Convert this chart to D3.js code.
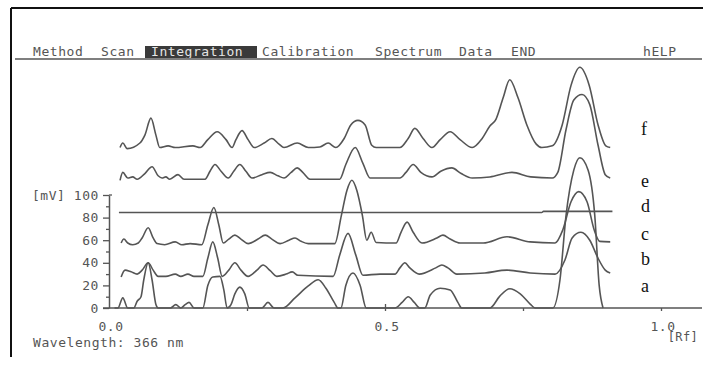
<!DOCTYPE html>
<html>
<head>
<meta charset="utf-8">
<script src="https://cdn.jsdelivr.net/npm/d3@7"></script>
<style>
  body { margin: 0; background: #fff; }
  text { font-family: "DejaVu Sans Mono", monospace; }
</style>
</head>
<body>
<div id="chart"></div>
<script>
// densitogram traces, [Rf, mV]
const traceA = [[0.010,0],[0.016,0],[0.025,9],[0.034,0],[0.045,0],[0.051,6],[0.058,10],[0.063,25],[0.071,40],[0.078,25],[0.085,3],[0.089,0],[0.111,0],[0.121,3],[0.130,0],[0.138,3],[0.145,5],[0.154,0],[0.170,0],[0.179,20],[0.188,27.5],[0.201,28],[0.208,16],[0.214,0],[0.221,3],[0.228,12.5],[0.237,18.5],[0.246,12.5],[0.254,0],[0.277,0],[0.288,5],[0.299,0],[0.315,0],[0.337,9],[0.361,19.5],[0.379,25],[0.393,17.5],[0.408,5],[0.415,0],[0.420,0],[0.429,20],[0.442,31],[0.455,20],[0.466,0],[0.518,0],[0.531,5],[0.542,10],[0.553,5],[0.563,0],[0.572,0],[0.582,11.5],[0.600,17.5],[0.618,16],[0.632,5],[0.639,0],[0.690,0],[0.708,10.5],[0.726,17],[0.745,12.5],[0.763,3.5],[0.772,0],[0.804,0],[0.817,25],[0.828,82],[0.842,122],[0.853,133],[0.868,122],[0.880,82],[0.888,20],[0.895,0]];
const traceB = [[0.022,27.5],[0.029,33.5],[0.040,32],[0.051,30],[0.060,33.5],[0.071,40],[0.080,33.5],[0.089,28],[0.103,28],[0.120,30],[0.130,28],[0.143,30],[0.154,28],[0.170,28],[0.179,44],[0.188,58.5],[0.197,44],[0.205,28],[0.217,33.5],[0.228,40],[0.239,33.5],[0.252,28],[0.268,33.5],[0.279,38],[0.292,33],[0.304,28],[0.321,30],[0.332,32],[0.342,29],[0.406,28],[0.418,47],[0.433,66],[0.447,47],[0.460,29],[0.491,30],[0.518,30],[0.527,35.5],[0.536,40],[0.545,35.5],[0.562,30],[0.592,35.5],[0.603,38],[0.614,35.5],[0.630,30],[0.681,31],[0.721,33.5],[0.763,31],[0.808,30],[0.826,42.5],[0.839,62],[0.855,67],[0.871,60],[0.886,44],[0.899,33.5],[0.908,31]];
const traceC = [[0.022,57.5],[0.027,61],[0.034,57.5],[0.043,56],[0.053,57.5],[0.060,62],[0.071,71],[0.080,62],[0.087,57],[0.101,56],[0.120,58.5],[0.132,56],[0.147,57],[0.168,56],[0.179,73.5],[0.190,89],[0.199,73.5],[0.207,57.5],[0.217,61],[0.228,64.5],[0.239,61],[0.252,57],[0.270,61],[0.283,64.5],[0.295,61],[0.310,57],[0.326,60],[0.337,62],[0.348,59],[0.361,57],[0.409,57],[0.421,82],[0.431,104],[0.440,113],[0.449,104],[0.459,82],[0.467,60],[0.475,67],[0.484,58],[0.520,57.5],[0.529,67],[0.540,76],[0.551,67],[0.567,57.5],[0.594,62],[0.605,64.5],[0.618,61],[0.636,57.5],[0.678,57.5],[0.721,63],[0.763,58.5],[0.808,57.5],[0.822,69],[0.837,94],[0.851,103],[0.866,94],[0.879,69],[0.889,59],[0.908,58.5]];
const traceD = [[0.018,84.5],[0.784,84.5],[0.787,85.5],[0.912,85.5]];
const traceE = [[0.020,113],[0.025,120],[0.034,115],[0.043,116],[0.051,114],[0.065,119],[0.078,125],[0.089,117],[0.096,115],[0.103,116],[0.110,114],[0.125,118],[0.136,114],[0.174,114],[0.183,121],[0.192,127],[0.203,121],[0.216,115],[0.226,121],[0.237,127],[0.248,121],[0.259,115],[0.277,118],[0.292,120],[0.306,117],[0.317,115],[0.330,120],[0.341,124],[0.351,120],[0.364,114],[0.418,114],[0.429,127],[0.446,142],[0.460,128],[0.473,115],[0.527,115],[0.538,120],[0.551,127],[0.565,120],[0.585,116],[0.601,121],[0.621,124],[0.638,119],[0.658,115],[0.690,116],[0.730,120],[0.764,116],[0.803,115],[0.813,120],[0.828,158],[0.842,184],[0.857,189],[0.871,180],[0.886,144],[0.899,118],[0.908,115]];
const traceF = [[0.020,142],[0.025,146],[0.033,141],[0.056,146],[0.065,153],[0.076,168],[0.085,153],[0.092,142],[0.107,143.5],[0.120,142],[0.152,143.5],[0.165,142],[0.179,149],[0.196,156],[0.212,149],[0.223,142],[0.230,149],[0.241,157],[0.252,149],[0.263,142],[0.281,146],[0.295,150],[0.308,145],[0.317,142],[0.341,146],[0.361,142],[0.382,142.5],[0.397,146],[0.411,142],[0.426,150],[0.438,162],[0.451,166],[0.464,162],[0.476,144],[0.484,142],[0.527,142],[0.542,150],[0.554,159],[0.569,150],[0.585,142],[0.600,149],[0.618,156],[0.636,149],[0.658,142],[0.676,150],[0.690,161],[0.701,167],[0.714,186],[0.726,202],[0.741,186],[0.757,162],[0.774,145],[0.784,142],[0.803,143.5],[0.821,162],[0.837,197],[0.853,213],[0.870,197],[0.886,162],[0.900,143.5],[0.908,142]];

const traces = [traceA, traceB, traceC, traceD, traceE, traceF];
const traceNames = ["a", "b", "c", "d", "e", "f"];
const nameY = [292, 265, 240, 212, 187, 135];

const yMajor = [0, 20, 40, 60, 80, 100];
const yMinor = [10, 30, 50, 70, 90];
const xTicks = [0.25, 0.5, 0.75, 1.0];
const xLabelValues = [0, 0.5, 1.0];
const xLabels = ["0.0", "0.5", "1.0"];

const menuItems = ["Method", "Scan", "Integration", "Calibration", "Spectrum", "Data", "END", "hELP"];
const menuX = [33, 101, 151, 262, 375, 459, 511, 643];

const width = 703, height = 367;
const ink = "#555";

const svg = d3.select("#chart").append("svg")
  .attr("width", width)
  .attr("height", height)
  .style("background", "#fff");

// frame
svg.append("line").attr("x1", 11).attr("x2", width).attr("y1", 8).attr("y2", 8)
  .attr("stroke", "#111").attr("stroke-width", 2);
svg.append("line").attr("x1", 11).attr("x2", 11).attr("y1", 8).attr("y2", 357)
  .attr("stroke", "#111").attr("stroke-width", 2);

// menu bar
svg.append("rect").attr("x", 145).attr("y", 46).attr("width", 112).attr("height", 12)
  .attr("fill", "#3a3a3a");
svg.selectAll(".menu")
  .data(menuItems)
  .enter()
  .append("text")
  .attr("x", (d, i) => menuX[i])
  .attr("y", 56)
  .text(d => d)
  .style("font-size", "13px")
  .style("letter-spacing", "0.55px")
  .attr("fill", d => d === "Integration" ? "#e6e6e6" : ink);
svg.append("line").attr("x1", 15).attr("x2", 702).attr("y1", 59).attr("y2", 59)
  .attr("stroke", ink).attr("stroke-width", 1.3);

const x = d3.scaleLinear().domain([0, 1]).range([109, 661]);
const y = d3.scaleLinear().domain([0, 100]).range([308, 195]);

// y axis: major + minor ticks
const yAxis = svg.append("g").attr("transform", `translate(${x(0)},0)`)
  .call(d3.axisLeft(y).tickValues(yMajor).tickSize(6).tickSizeOuter(0)
    .tickFormat(d => d === 100 ? "[mV] 100" : d));
svg.append("g").attr("transform", `translate(${x(0)},0)`)
  .call(d3.axisLeft(y).tickValues(yMinor).tickSize(3).tickSizeOuter(0).tickFormat(""))
  .select(".domain").remove();
svg.selectAll(".tick line").attr("stroke", ink).attr("stroke-width", 1.3);
yAxis.select(".domain").attr("stroke", ink).attr("stroke-width", 1.5);
yAxis.selectAll("text")
  .attr("x", -10)
  .attr("fill", ink)
  .style("font-size", "13px")
  .style("letter-spacing", "0.55px")
  .style("font-family", "DejaVu Sans Mono, monospace");
svg.append("line").attr("x1", x(0)).attr("x2", x(0) + 3).attr("y1", y(100)).attr("y2", y(100))
  .attr("stroke", ink).attr("stroke-width", 1.3);

// x axis
svg.append("line").attr("x1", x(0) - 6).attr("x2", 702).attr("y1", y(0)).attr("y2", y(0))
  .attr("stroke", ink).attr("stroke-width", 1.5);
const xAxis = svg.append("g").attr("transform", `translate(0,${y(0)})`)
  .call(d3.axisBottom(x).tickValues(xTicks).tickSize(3).tickSizeOuter(0).tickFormat(""));
xAxis.select(".domain").remove();
xAxis.selectAll(".tick line").attr("stroke", ink).attr("stroke-width", 1.3);
// short upward mark at the half-way tick
xAxis.selectAll(".tick").filter(d => d === 0.5).append("line")
  .attr("y1", 0).attr("y2", -4).attr("stroke", ink).attr("stroke-width", 1.3);

svg.selectAll(".xlab")
  .data(xLabelValues)
  .enter()
  .append("text")
  .attr("x", d => x(d) + 2)
  .attr("y", 331)
  .attr("text-anchor", "middle")
  .attr("fill", ink)
  .style("font-size", "13px")
  .style("letter-spacing", "0.55px")
  .text((d, i) => xLabels[i]);
svg.append("text").attr("x", 683).attr("y", 341).attr("text-anchor", "middle")
  .attr("fill", ink).style("font-size", "12px").style("letter-spacing", "0.4px").text("[Rf]");
svg.append("text").attr("x", 33).attr("y", 347)
  .attr("fill", ink).style("font-size", "13px").style("letter-spacing", "0.55px")
  .text("Wavelength: 366 nm");

// traces
const line = d3.line()
  .x(d => x(d[0]))
  .y(d => y(d[1]))
  .curve(d3.curveMonotoneX);

svg.selectAll(".trace")
  .data(traces)
  .enter()
  .append("path")
  .attr("d", line)
  .attr("fill", "none")
  .attr("stroke", ink)
  .attr("stroke-width", 1.6)
  .attr("stroke-linejoin", "round");

svg.selectAll(".name")
  .data(traceNames)
  .enter()
  .append("text")
  .attr("x", 641)
  .attr("y", (d, i) => nameY[i])
  .text(d => d)
  .attr("fill", "#111")
  .style("font-family", "'Liberation Serif', 'Times New Roman', serif")
  .style("font-size", "18px");
</script>
</body>
</html>
